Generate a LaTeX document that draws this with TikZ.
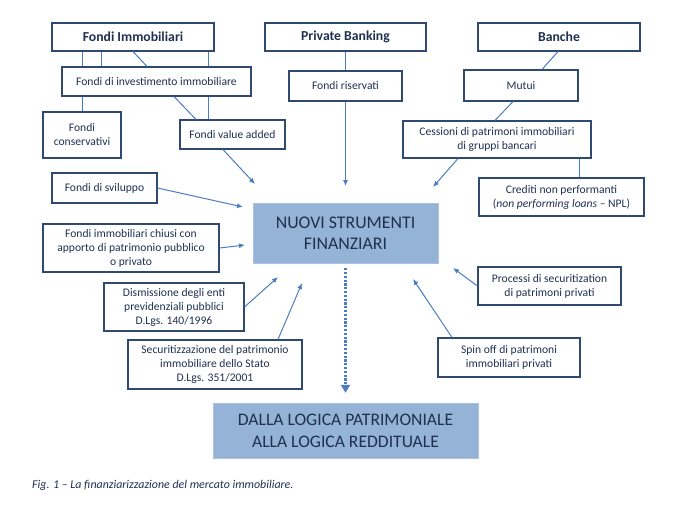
\documentclass[tikz,border=0pt]{standalone}
\usepackage{fontspec}
\setmainfont{Carlito}
\usetikzlibrary{arrows.meta}
\definecolor{txt}{HTML}{1F3050}
\definecolor{bord}{HTML}{2F4A70}
\definecolor{lin}{HTML}{4A7CC0}
\definecolor{fillb}{HTML}{95B3D7}
\tikzset{
  box/.style={draw=bord, line width=1.1pt, rectangle, inner sep=0pt, align=center,
    text=txt, font=\fontsize{11.6}{14}\selectfont},
  head/.style={box, font=\fontsize{13.7}{15}\selectfont\bfseries},
  big/.style={rectangle, fill=fillb, draw=fillb!80!white, inner sep=0pt, align=center, text=txt},
  conn/.style={draw=lin, line width=1pt},
  arr/.style={conn, -{Latex[length=6pt,width=5pt]}},
}
\begin{document}
\begin{tikzpicture}[x=1pt,y=-1pt]
\useasboundingbox (0,0) rectangle (679,505);
% top row
\node[head, minimum width=162, minimum height=28] (fi) at (133,37) {Fondi Immobiliari};
\node[head, minimum width=161, minimum height=28] (pb) at (345.5,37) {Private Banking};
\node[head, minimum width=162, minimum height=28] (ba) at (559,37) {Banche};
% second level
\node[box, minimum width=189, minimum height=29] (fdi) at (156.5,81.5) {Fondi di investimento immobiliare};
\node[box, minimum width=113, minimum height=30] (fr) at (345.5,86) {Fondi riservati};
\node[box, minimum width=114, minimum height=31] (mu) at (521,85.5) {Mutui};
% third level
\node[box, minimum width=78, minimum height=46] (fc) at (82,135) {Fondi\\conservativi};
\node[box, minimum width=105, minimum height=29] (fva) at (232.5,134.5) {Fondi value added};
\node[box, minimum width=188, minimum height=37] (ce) at (497,139.5) {Cessioni di patrimoni immobiliari\\di gruppi bancari};
\node[box, minimum width=165, minimum height=38] (cr) at (561.5,197) {Crediti non performanti\\(\textit{non performing loans} -- NPL)};
% left side
\node[box, minimum width=105, minimum height=30] (fs) at (104.5,188) {Fondi di sviluppo};
\node[box, minimum width=176, minimum height=48] (fic) at (131,248) {Fondi immobiliari chiusi con\\apporto di patrimonio pubblico\\o privato};
\node[box, minimum width=140, minimum height=48] (dis) at (174,307) {Dismissione degli enti\\previdenziali pubblici\\D.Lgs. 140/1996};
\node[box, minimum width=174, minimum height=49] (sec) at (215,364.5) {Securitizzazione del patrimonio\\immobiliare dello Stato\\D.Lgs. 351/2001};
% right side
\node[box, minimum width=143, minimum height=38] (pr) at (549.5,286) {Processi di securitization\\di patrimoni privati};
\node[box, minimum width=142, minimum height=39] (so) at (509,357.5) {Spin off di patrimoni\\immobiliari privati};
% central
\node[big, minimum width=185, minimum height=60, font=\fontsize{17.8}{21}\selectfont] (ns) at (345.5,233) {NUOVI STRUMENTI\\FINANZIARI};
\node[big, minimum width=265, minimum height=55, font=\fontsize{17.6}{22}\selectfont] (dl) at (345.5,430.5) {DALLA LOGICA PATRIMONIALE\\ALLA LOGICA REDDITUALE};
% caption
\node[anchor=base west, inner sep=0pt, text=txt, font=\fontsize{11.9}{14}\selectfont\itshape] (cap) at (32,488) {Fig. 1 -- La finanziarizzazione del mercato immobiliare.};
% arrow tips (free ends)
\coordinate (t1) at (255,184);
\coordinate (t2) at (345.5,186);
\coordinate (t3) at (433,187);
\coordinate (t4) at (243,207);
\coordinate (t5) at (245,245);
\coordinate (t6) at (278,277);
\coordinate (t7) at (302,283);
\coordinate (t8) at (453,268);
\coordinate (t9) at (413,279);
% Fondi immobiliari tree
\draw[conn] (fi.south -| 82,0) -- (fdi.north -| 82,0);
\draw[conn] (fi.south -| 101,0) -- (fdi.north -| 101,0);
\draw[conn] (fi.south -| 133,0) -- (fdi.north -| 147,0);
\draw[conn] (fi.south -| 208,0) -- (fdi.north -| 208,0);
\draw[conn] (fdi.south -| 82,0) -- (fc.north);
\draw[conn] (fdi.south -| 174,0) -- (fva.north -| 196,0);
\draw[conn] (fdi.south -| 208,0) -- (fva.north -| 208,0);
\draw[arr] (fva.south -| 223,0) -- (t1);
% private banking
\draw[conn] (pb.south) -- (fr.north);
\draw[arr] (fr.south) -- (t2);
% banche
\draw[conn] (ba.south -| 558,0) -- (mu.north -| 542,0);
\draw[conn] (mu.south -| 513,0) -- (ce.north -| 495,0);
\draw[arr] (ce.south -| 458,0) -- (t3);
\draw[conn] (ce.south -| 579,0) -- (cr.north -| 579,0);
% left arrows
\draw[arr] (fs.east) -- (t4);
\draw[arr] (fic.east) -- (t5);
\draw[arr] (dis.east) -- (t6);
\draw[arr] (sec.north -| 278,0) -- (t7);
% right arrows
\draw[arr] (pr.west) -- (t8);
\draw[arr] (so.north -| 452,0) -- (t9);
% dotted
\draw[draw=lin, line width=2.6pt, dash pattern=on 2.2pt off 1.6pt, shorten <=5pt, shorten >=10pt,
  -{Triangle[length=8pt,width=9pt]}] (ns.south) -- (dl.north);
\end{tikzpicture}
\end{document}
